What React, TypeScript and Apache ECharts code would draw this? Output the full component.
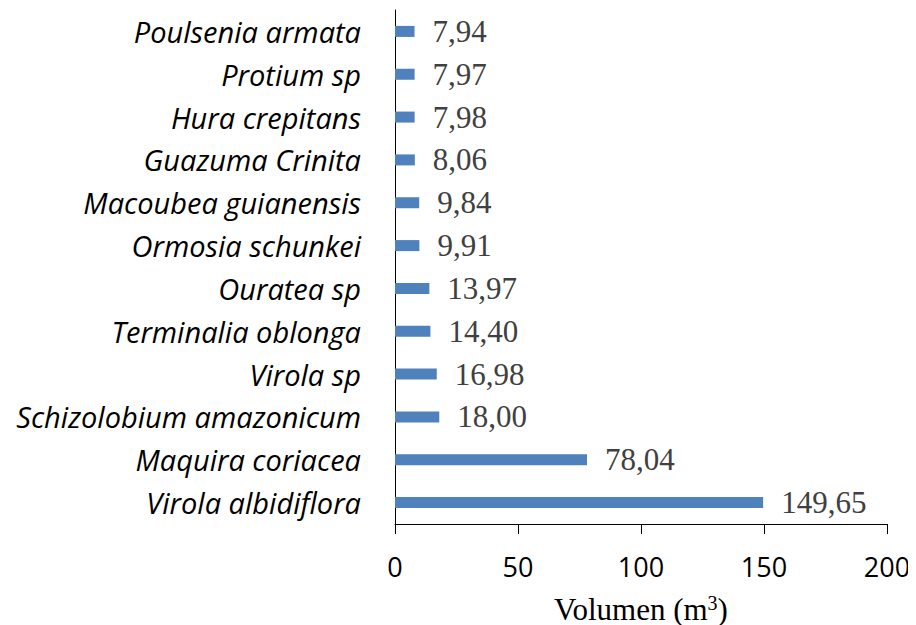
import React, { useEffect, useRef } from "react";
import * as echarts from "echarts";

const categories = [
  "Virola albidiflora",
  "Maquira coriacea",
  "Schizolobium amazonicum",
  "Virola sp",
  "Terminalia oblonga",
  "Ouratea sp",
  "Ormosia schunkei",
  "Macoubea guianensis",
  "Guazuma Crinita",
  "Hura crepitans",
  "Protium sp",
  "Poulsenia armata",
];
const values = [149.65, 78.04, 18.0, 16.98, 14.4, 13.97, 9.91, 9.84, 8.06, 7.98, 7.97, 7.94];
const xTicks = [0, 50, 100, 150, 200];

export default function App() {
  const ref = useRef<HTMLDivElement>(null);
  useEffect(() => {
    if (!ref.current) return;
    const chart = echarts.init(ref.current, undefined, { renderer: "svg" });
    chart.setOption({
      animation: false,
      grid: { left: 387, right: 29, top: 2, bottom: 101, containLabel: false, outerBoundsMode: "none" },
      xAxis: {
        type: "value",
        min: xTicks[0],
        max: xTicks[xTicks.length - 1],
        interval: 50,
        name: "Volumen (m{sup|3})",
        nameLocation: "middle",
        nameGap: 69,
        nameTextStyle: {
          fontFamily: "Liberation Serif",
          fontSize: 31,
          color: "#000",
          rich: {
            sup: { fontFamily: "Liberation Serif", fontSize: 20, color: "#000", verticalAlign: "top", padding: [0, 0, 12, 0] },
          },
        },
        axisLine: { show: true, lineStyle: { color: "#000", width: 1 } },
        axisTick: { show: true, length: 10, lineStyle: { color: "#000" } },
        axisLabel: { fontFamily: "Open Sans", fontSize: 27, color: "#000", margin: 29 },
        splitLine: { show: false },
      },
      yAxis: {
        type: "category",
        data: categories,
        axisLine: { show: true, lineStyle: { color: "#000", width: 1 } },
        axisTick: { show: false },
        axisLabel: {
          fontFamily: "Open Sans",
          fontStyle: "italic",
          fontSize: 29,
          color: "#000",
          margin: 34,
        },
      },
      series: [
        {
          type: "bar",
          data: values,
          barWidth: 11,
          itemStyle: { color: "#4f81bd" },
          label: {
            show: true,
            position: "right",
            distance: 18,
            fontFamily: "Liberation Serif",
            fontSize: 31,
            color: "#404040",
            formatter: (p: any) => p.value.toFixed(2).replace(".", ","),
          },
        },
      ],
    });
    return () => chart.dispose();
  }, []);
  return <div ref={ref} style={{ width: 908, height: 617 }} />;
}
